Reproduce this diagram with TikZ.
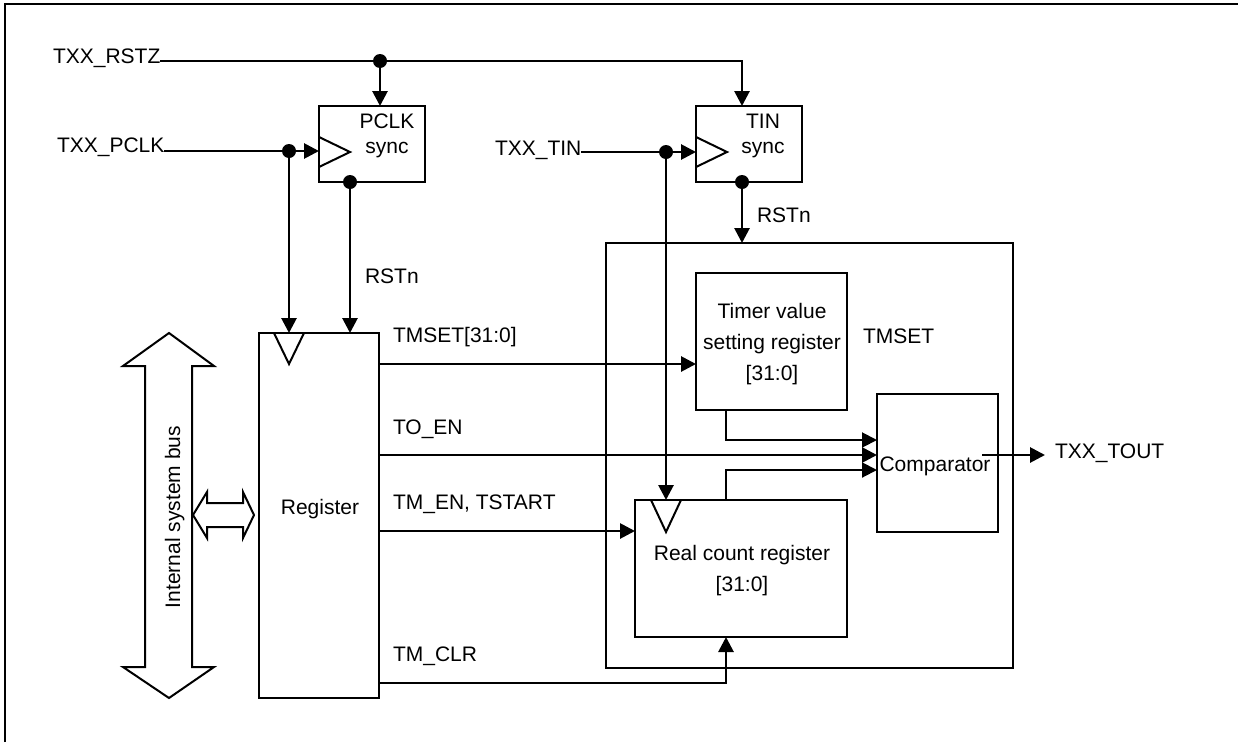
\documentclass[tikz,border=0pt]{standalone}
\usepackage{fontspec}
\setmainfont{Liberation Sans}
\usetikzlibrary{arrows.meta,calc}
\begin{document}
\begin{tikzpicture}[x=1pt,y=-1pt,
  box/.style={draw,line width=2pt,inner sep=0pt,outer sep=0pt},
  sig/.style={line width=2.8pt,-{Triangle[length=15pt,width=15pt]}},
  thinsig/.style={line width=2pt,-{Triangle[length=15pt,width=15pt]}},
  txt/.style={font=\fontsize{21}{25}\selectfont,inner sep=0pt,outer sep=0pt,anchor=base},
  ltxt/.style={txt,anchor=base west},
  dot/.style={circle,fill,inner sep=0pt,minimum size=14pt},
  clk/.style={line width=2pt},
  bus/.style={line width=2pt,line join=miter}]
\useasboundingbox (0,0) rectangle (1238,742);
% frame
\draw[line width=2.5pt] (5,742) -- (5,4) -- (1238,4);

% boxes
\node[box,minimum width=106pt,minimum height=76pt] (pclk) at (372,144) {};
\node[box,minimum width=106pt,minimum height=76pt] (tin) at (749,144) {};
\node[box,minimum width=120pt,minimum height=365pt] (reg) at (319,515.5) {};
\node[box,minimum width=407pt,minimum height=425pt] (outer) at (809.5,455.5) {};
\node[box,minimum width=151pt,minimum height=137pt] (timer) at (771.5,341.5) {};
\node[box,minimum width=212pt,minimum height=137pt] (rc) at (741,568.5) {};
\node[box,minimum width=121pt,minimum height=138pt] (comp) at (937.5,463) {};

% clock triangles
\draw[clk] (319,137) -- (350,152) -- (319,167);
\draw[clk] (696,137) -- (727,152) -- (696,167);
\draw[clk] (274,333) -- (289,364) -- (304,333);
\draw[clk] (651,500) -- (666,532) -- (681,500);

% texts
\node[ltxt] (rstz) at (53,63) {TXX\_RSTZ};
\node[ltxt] (pclklbl) at (57,152) {TXX\_PCLK};
\node[ltxt] (tinlbl) at (495,155) {TXX\_TIN};
\node[txt] (pclkt1) at (387,128) {PCLK};
\node[txt] (pclkt2) at (387,153) {sync};
\node[txt] (tint1) at (763,128) {TIN};
\node[txt] (tint2) at (763,153) {sync};
\node[ltxt] (rstn1) at (365,283) {RSTn};
\node[ltxt] (rstn2) at (757,222) {RSTn};
\node[ltxt] (ltmset) at (393,342) {TMSET[31:0]};
\node[ltxt] (ltoen) at (393,434) {TO\_EN};
\node[ltxt] (ltmen) at (393,509) {TM\_EN, TSTART};
\node[ltxt] (ltmclr) at (393,661) {TM\_CLR};
\node[ltxt] (ltmset2) at (863,343) {TMSET};
\node[ltxt] (tout) at (1055,458) {TXX\_TOUT};
\node[txt] (regt) at (320,514) {Register};
\node[txt,rotate=90] (bust) at (180,517) {Internal system bus};
\node[txt] (tv1) at (772,318) {Timer value};
\node[txt] (tv2) at (772,349) {setting register};
\node[txt] (tv3) at (772,380) {[31:0]};
\node[txt] (rc1) at (742,560) {Real count register};
\node[txt] (rc2) at (742,591) {[31:0]};
\node[txt] (compt) at (935,471) {Comparator};

% bus arrows
\draw[bus] (169,333) -- (214,366) -- (192,366) -- (192,667) -- (214,667) -- (169,698)
  -- (123,667) -- (145,667) -- (145,366) -- (123,366) -- cycle;
\draw[bus] (193,515) -- (207,492) -- (207,503) -- (243,503) -- (243,492) -- (254,515)
  -- (243,538) -- (243,527) -- (207,527) -- (207,538) -- cycle;

% dots
\node[dot] (d1) at (380,61) {};
\node[dot] (d2) at (289,151) {};
\node[dot] (d3) at (350,182) {};
\node[dot] (d4) at (666,152) {};
\node[dot] (d5) at (742,182) {};

% helper levels
\coordinate (yts) at (0,364);
\coordinate (yto) at (0,455);
\coordinate (yte) at (0,531);
\coordinate (ycl) at (0,683);
\coordinate (ya) at (0,440);
\coordinate (yb) at (0,470);
\coordinate (xm) at (726,0);
\coordinate (toutin) at ([xshift=-10pt]tout.west);

% connectors
\draw[sig] (rstz.east |- d1) -| (tin.north -| d5);
\draw[sig] (d1.center) -- (pclk.north -| d1);
\draw[sig] (pclklbl.east |- d2) -- (pclk.west |- d2);
\draw[sig] (d2.center) -- (reg.north -| d2);
\draw[sig] (d3.center) -- (reg.north -| d3);
\draw[sig] (tinlbl.east |- d4) -- (tin.west |- d4);
\draw[sig] (d4.center) -- (rc.north -| d4);
\draw[sig] (d5.center) -- (outer.north -| d5);

\draw[sig] (reg.east |- yts) -- (timer.west |- yts);
\draw[sig] (reg.east |- yto) -- (comp.west |- yto);
\draw[sig] (reg.east |- yte) -- (rc.west |- yte);
\draw[sig] (reg.east |- ycl) -| (rc.south -| xm);
\draw[thinsig] (timer.south -| xm) |- (comp.west |- ya);
\draw[thinsig] (rc.north -| xm) |- (comp.west |- yb);
\draw[sig] ([shift={(-16,-8)}]comp.east) -- (toutin |- yto);
\end{tikzpicture}
\end{document}
